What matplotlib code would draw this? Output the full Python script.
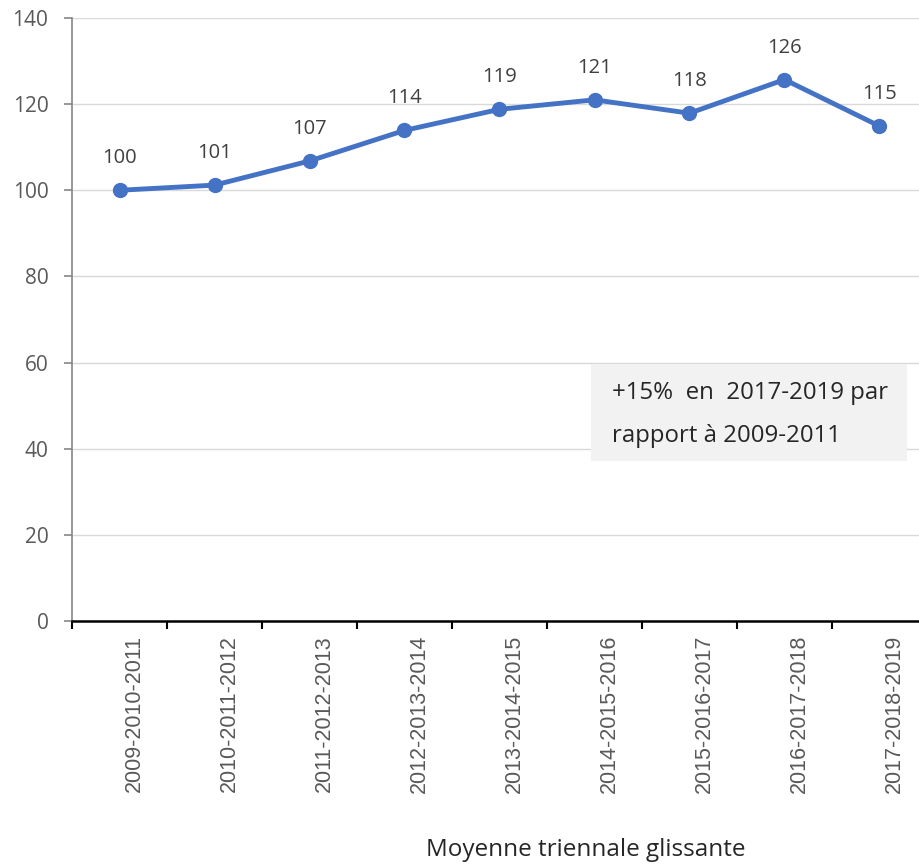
import matplotlib
matplotlib.use("Agg")
import matplotlib.pyplot as plt
from matplotlib.transforms import ScaledTranslation

plt.rcParams['font.family'] = ['Open Sans', 'DejaVu Sans']

categories = ["2009-2010-2011", "2010-2011-2012", "2011-2012-2013", "2012-2013-2014",
              "2013-2014-2015", "2014-2015-2016", "2015-2016-2017", "2016-2017-2018",
              "2017-2018-2019"]
values = [100, 101.2, 106.8, 113.9, 118.8, 121.0, 117.9, 125.7, 114.9]
labels = ["100", "101", "107", "114", "119", "121", "118", "126", "115"]
yticks = [0, 20, 40, 60, 80, 100, 120, 140]

fig = plt.figure(figsize=(9.2, 8.64), dpi=100)
ax = fig.add_axes([72/920, 1-621/864, 855/920, 603/864])

x = list(range(len(categories)))
ax.plot(x, values, color="#4472C4", lw=3.5, marker="o", ms=10, zorder=3, clip_on=False)
for xi, v, lab in zip(x, values, labels):
    ax.annotate(lab, (xi, v), xytext=(0, 23), textcoords="offset points",
                ha="center", va="center", fontsize=14.5, color="#404040")

ax.set_xlim(-0.5, len(categories) - 0.5)
ax.set_ylim(0, 140)
ax.set_yticks(yticks)
ax.set_yticklabels([str(t) for t in yticks], fontsize=15, color="#595959")
ax.set_xticks(x)
ax.set_xticklabels(categories, rotation=90, fontsize=15.5, color="#595959",
                   family=['Liberation Sans', 'DejaVu Sans'])
ax.tick_params(axis='x', length=0, pad=10)
shift = ScaledTranslation(15/100, 0, fig.dpi_scale_trans)
for lab in ax.get_xticklabels():
    lab.set_transform(lab.get_transform() + shift)
ax.set_xticks([i - 0.5 for i in range(len(categories) + 1)], minor=True)
ax.tick_params(axis='x', which='minor', length=6, width=1.5, color="#000000", direction='out')
ax.tick_params(axis='y', length=6, width=1.2, color="#868686", direction='out', pad=11)

ax.grid(axis='y', color="#D9D9D9", lw=1)
ax.set_axisbelow(True)
for s in ['top', 'right']:
    ax.spines[s].set_visible(False)
ax.spines['left'].set_color("#868686")
ax.spines['left'].set_linewidth(1.2)
ax.spines['bottom'].set_color("#000000")
ax.spines['bottom'].set_linewidth(1.8)

# annotation box
bx0, by0, bx1, by1 = 591, 364, 907, 461
box = plt.Rectangle((bx0/920, 1-by1/864), (bx1-bx0)/920, (by1-by0)/864,
                    transform=fig.transFigure, facecolor="#F2F2F2", edgecolor="none", zorder=5)
fig.patches.append(box)
fig.text(612/920, 1-393/864, "+15%  en  2017-2019 par", fontsize=17.3, color="#262626",
         va="center", ha="left", zorder=6)
fig.text(612/920, 1-436/864, "rapport à 2009-2011", fontsize=17.3, color="#262626",
         va="center", ha="left", zorder=6)

fig.text(586/920, 1-850/864, "Moyenne triennale glissante", fontsize=17.5, color="#262626",
         ha="center", va="center")

fig.savefig("out.png", dpi=100)
